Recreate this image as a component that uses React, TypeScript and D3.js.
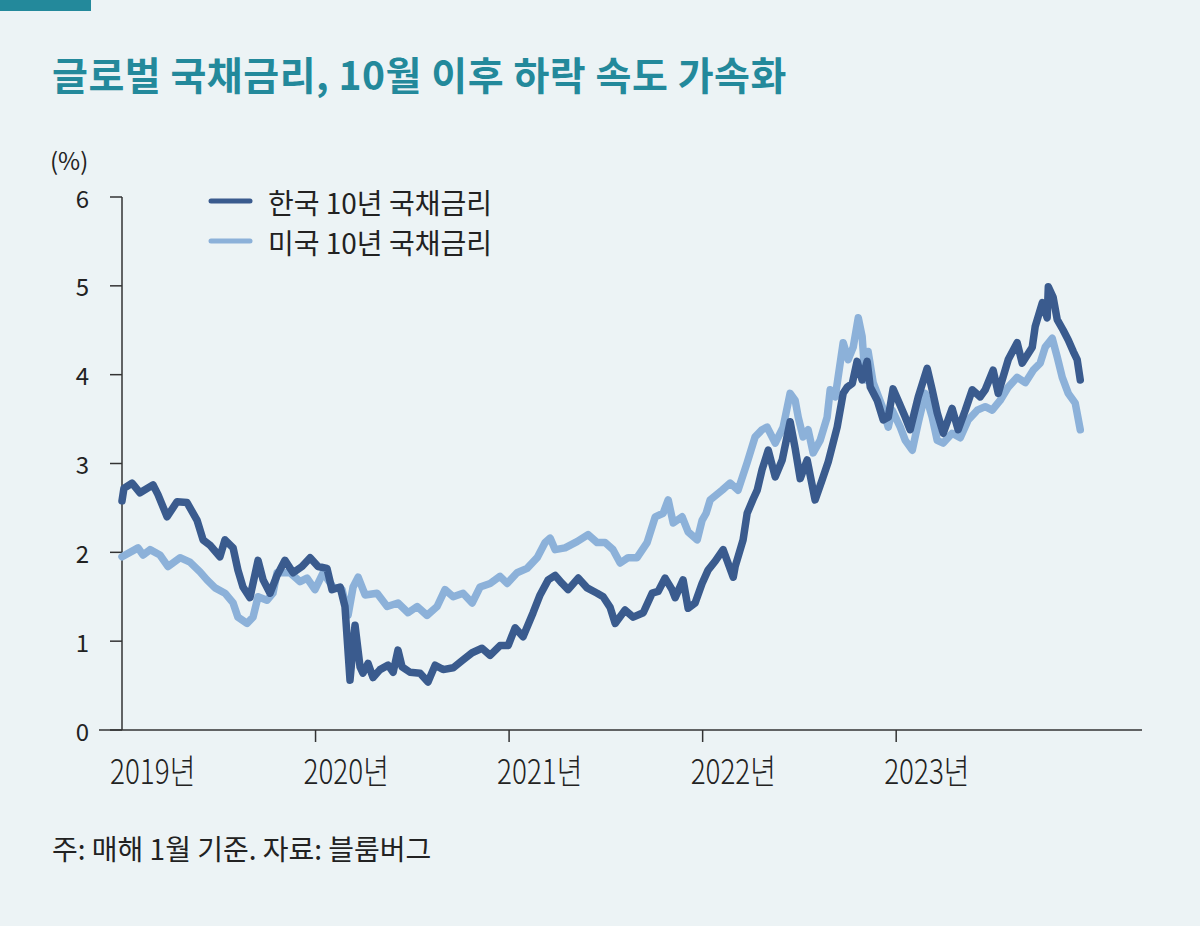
import React from "react";
import * as d3 from "d3";

// decimal year, value (%)
const krTime = [2019.000,2019.010,2019.052,2019.093,2019.160,2019.186,2019.233,2019.284,2019.336,2019.388,2019.419,2019.455,2019.506,2019.532,2019.574,2019.599,2019.625,2019.661,2019.703,2019.729,2019.765,2019.801,2019.842,2019.884,2019.930,2019.972,2020.013,2020.059,2020.085,2020.127,2020.152,2020.178,2020.204,2020.230,2020.245,2020.271,2020.297,2020.333,2020.375,2020.401,2020.426,2020.447,2020.488,2020.540,2020.581,2020.618,2020.659,2020.711,2020.762,2020.809,2020.860,2020.902,2020.953,2020.995,2021.031,2021.072,2021.124,2021.160,2021.202,2021.238,2021.274,2021.305,2021.357,2021.403,2021.455,2021.486,2021.522,2021.548,2021.599,2021.641,2021.693,2021.739,2021.770,2021.806,2021.842,2021.858,2021.899,2021.925,2021.961,2021.997,2022.028,2022.065,2022.106,2022.158,2022.168,2022.209,2022.230,2022.261,2022.282,2022.307,2022.339,2022.375,2022.411,2022.452,2022.478,2022.504,2022.540,2022.581,2022.618,2022.649,2022.695,2022.726,2022.747,2022.773,2022.798,2022.824,2022.850,2022.866,2022.902,2022.933,2022.959,2022.984,2023.010,2023.047,2023.072,2023.114,2023.160,2023.186,2023.212,2023.243,2023.289,2023.320,2023.357,2023.393,2023.434,2023.460,2023.501,2023.527,2023.579,2023.625,2023.651,2023.703,2023.718,2023.755,2023.780,2023.786,2023.811,2023.832,2023.863,2023.889,2023.915,2023.935,2023.951];
const krValue = [2.58,2.72,2.78,2.67,2.76,2.65,2.40,2.57,2.56,2.36,2.14,2.08,1.95,2.14,2.05,1.80,1.61,1.49,1.91,1.69,1.54,1.74,1.91,1.77,1.84,1.94,1.84,1.82,1.58,1.61,1.39,0.56,1.18,0.71,0.64,0.75,0.59,0.68,0.73,0.65,0.90,0.71,0.65,0.64,0.54,0.73,0.68,0.70,0.79,0.87,0.92,0.84,0.95,0.95,1.15,1.05,1.32,1.52,1.69,1.74,1.65,1.58,1.71,1.60,1.54,1.50,1.38,1.20,1.35,1.27,1.32,1.54,1.56,1.71,1.58,1.49,1.69,1.37,1.43,1.65,1.80,1.90,2.03,1.72,1.84,2.14,2.44,2.60,2.70,2.93,3.15,2.85,3.04,3.47,3.17,2.83,3.04,2.59,2.82,3.02,3.41,3.79,3.86,3.90,4.15,3.94,4.15,3.86,3.71,3.49,3.52,3.84,3.71,3.52,3.38,3.75,4.07,3.83,3.57,3.34,3.62,3.38,3.60,3.83,3.75,3.83,4.05,3.79,4.17,4.36,4.13,4.31,4.54,4.81,4.64,4.99,4.87,4.62,4.50,4.39,4.26,4.17,3.94];

const usTime = [2019.000,2019.083,2019.109,2019.145,2019.196,2019.238,2019.300,2019.351,2019.403,2019.439,2019.481,2019.532,2019.574,2019.599,2019.646,2019.677,2019.703,2019.749,2019.780,2019.801,2019.868,2019.920,2019.956,2019.997,2020.039,2020.090,2020.137,2020.168,2020.194,2020.220,2020.256,2020.318,2020.370,2020.426,2020.478,2020.525,2020.576,2020.628,2020.669,2020.711,2020.762,2020.809,2020.850,2020.902,2020.953,2020.990,2021.041,2021.093,2021.145,2021.186,2021.212,2021.238,2021.289,2021.351,2021.408,2021.455,2021.496,2021.537,2021.574,2021.615,2021.661,2021.713,2021.755,2021.796,2021.822,2021.848,2021.894,2021.925,2021.972,2021.997,2022.018,2022.039,2022.101,2022.142,2022.183,2022.230,2022.271,2022.307,2022.333,2022.375,2022.416,2022.452,2022.478,2022.494,2022.519,2022.545,2022.571,2022.607,2022.643,2022.659,2022.685,2022.726,2022.752,2022.778,2022.804,2022.824,2022.840,2022.855,2022.881,2022.928,2022.959,2022.979,2023.021,2023.047,2023.083,2023.114,2023.150,2023.186,2023.212,2023.243,2023.289,2023.331,2023.372,2023.419,2023.460,2023.496,2023.537,2023.579,2023.625,2023.667,2023.708,2023.744,2023.770,2023.806,2023.832,2023.858,2023.889,2023.925,2023.951];
const usValue = [1.95,2.05,1.97,2.03,1.97,1.84,1.94,1.89,1.78,1.69,1.60,1.54,1.43,1.27,1.20,1.27,1.50,1.46,1.54,1.77,1.77,1.67,1.71,1.58,1.77,1.61,1.58,1.29,1.61,1.72,1.52,1.54,1.39,1.43,1.32,1.39,1.29,1.39,1.58,1.50,1.54,1.43,1.61,1.65,1.73,1.65,1.77,1.82,1.94,2.11,2.16,2.03,2.05,2.12,2.20,2.11,2.11,2.03,1.88,1.94,1.94,2.11,2.40,2.44,2.59,2.33,2.40,2.23,2.14,2.36,2.44,2.59,2.70,2.78,2.70,3.01,3.30,3.38,3.41,3.23,3.41,3.79,3.71,3.52,3.30,3.38,3.12,3.26,3.52,3.83,3.75,4.36,4.17,4.31,4.64,4.43,3.94,4.26,3.91,3.64,3.41,3.60,3.41,3.26,3.15,3.46,3.79,3.52,3.26,3.23,3.34,3.29,3.49,3.60,3.64,3.60,3.71,3.86,3.97,3.91,4.05,4.13,4.31,4.41,4.20,3.97,3.79,3.68,3.38];

const yearTicks = [2019, 2020, 2021, 2022, 2023];
const yTicks = [0, 1, 2, 3, 4, 5, 6];
const seriesNames = ["한국 10년 국채금리", "미국 10년 국채금리"];
const title = "글로벌 국채금리, 10월 이후 하락 속도 가속화";
const note = "주: 매해 1월 기준. 자료: 블룸버그";

const KR_COLOR = "#3a5b8e";
const US_COLOR = "#8cb1d9";
const TEAL = "#23899b";
const FONT = "'Noto Sans CJK KR', 'Noto Sans', sans-serif";

export default function App() {
  const W = 1200, H = 926;
  const x = d3.scaleLinear().domain([2019, 2024.27]).range([122, 1142]);
  const y = d3.scaleLinear().domain([0, 6]).range([730, 197]);

  const line = d3.line<[number, number]>()
    .x(d => x(d[0]))
    .y(d => y(d[1]));

  const kr: [number, number][] = krTime.map((t, i) => [t, krValue[i]]);
  const us: [number, number][] = usTime.map((t, i) => [t, usValue[i]]);

  return (
    <svg width={W} height={H} style={{ position: "absolute", left: 0, top: 0 }} fontFamily={FONT}>
      <rect width={W} height={H} fill="#ecf3f5" />
      <rect x={0} y={0} width={91} height={11} fill={TEAL} />
      <text x={52} y={90} fontSize={39} fontWeight={700} letterSpacing={0.5} fill={TEAL}>{title}</text>

      <text x={50} y={170} fontSize={24} fill="#222">(%)</text>

      {/* y axis */}
      <line x1={122} x2={122} y1={y(6)} y2={y(0)} stroke="#333" strokeWidth={1.5} />
      {yTicks.map(t => (
        <g key={t}>
          <line x1={110} x2={122} y1={y(t)} y2={y(t)} stroke="#333" strokeWidth={1.5} />
          <text x={89} y={y(t)} fontSize={24} textAnchor="end" dominantBaseline="central" fill="#222">{t}</text>
        </g>
      ))}

      {/* x axis */}
      <line x1={99} x2={x(2024.27)} y1={y(0)} y2={y(0)} stroke="#333" strokeWidth={1.5} />
      {yearTicks.map(t => (
        <g key={t}>
          {t !== 2019 && <line x1={x(t)} x2={x(t)} y1={y(0)} y2={y(0) + 12} stroke="#333" strokeWidth={1.5} />}
          <text transform={`translate(${x(t) - 12},784) scale(0.82,1)`} fontSize={34} fontWeight={300} fill="#222">{t}년</text>
        </g>
      ))}

      {/* lines */}
      <path d={line(us) || ""} fill="none" stroke={US_COLOR} strokeWidth={7.5} strokeLinejoin="round" strokeLinecap="round" />
      <path d={line(kr) || ""} fill="none" stroke={KR_COLOR} strokeWidth={7.5} strokeLinejoin="round" strokeLinecap="round" />

      {/* legend */}
      {[KR_COLOR, US_COLOR].map((c, i) => (
        <g key={i}>
          <line x1={211} x2={250} y1={201 + i * 40} y2={201 + i * 40} stroke={c} strokeWidth={5} strokeLinecap="round" />
          <text x={268} y={202 + i * 40} fontSize={28} dominantBaseline="central" fill="#222">{seriesNames[i]}</text>
        </g>
      ))}

      <text x={52} y={860} fontSize={28} fill="#222">{note}</text>
    </svg>
  );
}
